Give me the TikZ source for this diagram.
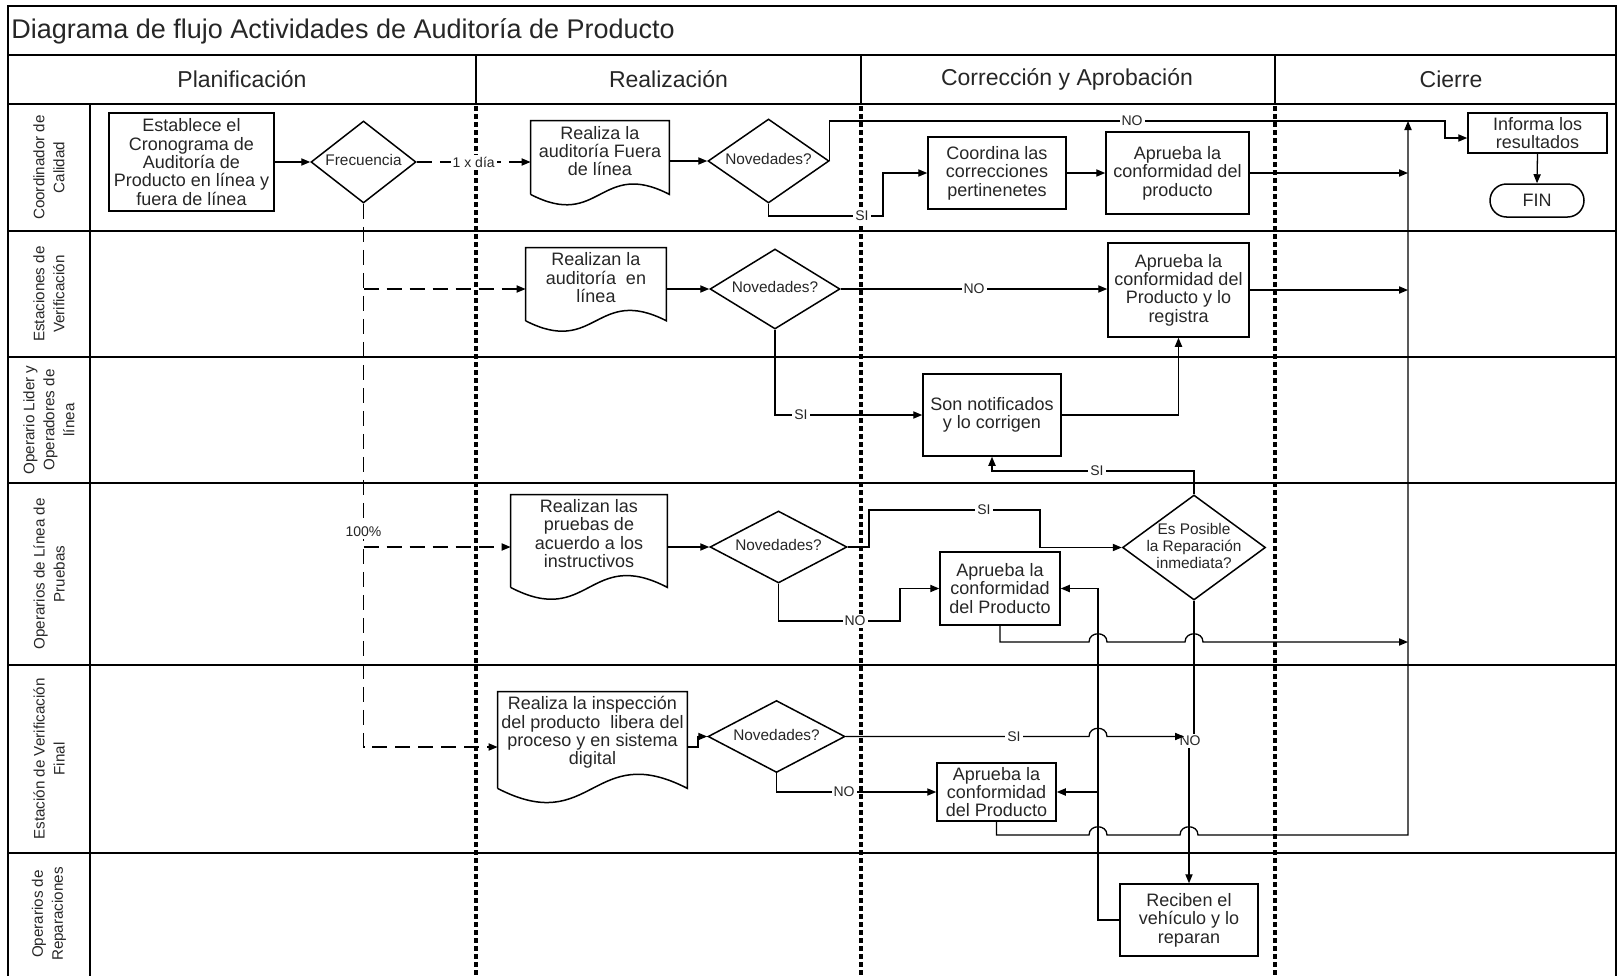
\documentclass[tikz,border=0pt]{standalone}
\usepackage{fontspec}
\setmainfont{Liberation Sans}
\usetikzlibrary{arrows.meta,calc,shapes.geometric}

% font sizes used in the chart
\newcommand\ttlfont{\fontsize{13.5}{15}\selectfont}
\newcommand\hdfont{\fontsize{11.5}{13}\selectfont}
\newcommand\bxfont{\fontsize{9}{9.2}\selectfont}
\newcommand\dcfont{\fontsize{7.7}{8.3}\selectfont}
\newcommand\lnfont{\fontsize{7.6}{10}\selectfont}
\newcommand\lbfont{\fontsize{7}{8}\selectfont}
% centred text of no size, so a decision keeps its given size
\newcommand\zc[1]{\smash{\raisebox{-0.3em}{\makebox[0pt]{\begin{tabular}{@{}c@{}}#1\end{tabular}}}}}
% document symbol: the node holds the text, the sides run #3 further down to a wavy edge
\newcommand\docwave[3]{\draw[shp] ($(#1.south west)+(0,#3)$) -- (#1.north west) -- (#1.north east) -- ($(#1.south east)+(0,#3)$)
  .. controls ($(#1.south)+(0,#3-#2)$) and ($(#1.south)+(0,#3+#2)$) .. ($(#1.south west)+(0,#3)$);}

\begin{document}
\begin{tikzpicture}[x=0.5pt,y=-0.5pt,
  every node/.append style={text=black!85},
  frame/.style={line width=1pt},
  phaseline/.style={line width=1.8pt, dash pattern=on 2.4pt off 1.6pt},
  conn/.style={line width=0.65pt},
  arr/.style={-{Triangle[length=4.5pt,width=3.6pt]}},
  dsh/.style={dash pattern=on 7.5pt off 4pt},
  shp/.style={line width=0.75pt},
  box/.style 2 args={draw, shp, rectangle, align=center, inner sep=0pt,
    minimum width=#1*0.5pt, minimum height=#2*0.5pt, font=\bxfont},
  docbox/.style 2 args={rectangle, align=center, inner sep=0pt,
    minimum width=#1*0.5pt, minimum height=#2*0.5pt, font=\bxfont},
  dec/.style 2 args={diamond, draw, shp, inner sep=0pt,
    minimum width=#1*0.5pt, minimum height=#2*0.5pt, font=\dcfont},
  lbl/.style={fill=white, inner sep=1pt, font=\lbfont},
  lane/.style={rotate=90, align=center, font=\lnfont},
  phase/.style={font=\hdfont},
  jmp/.style 2 args={insert path={-- (#1-9,#2) .. controls (#1-9,#2-11) and (#1+9,#2-11) .. (#1+9,#2)}},
]
\useasboundingbox (0,0) rectangle (1617,975);

% ---------- frame, title, phases and lanes ----------
\draw[frame] (8,976) -- (8,6) -- (1616,6) -- (1616,976);
\draw[frame] (8,55) -- (1616,55);
\draw[frame] (8,104) -- (1616,104);
\foreach \yy in {231,357,483,665,853} \draw[frame] (8,\yy) -- (1616,\yy);
\draw[frame] (90,104) -- (90,976);
\foreach \xx in {476,861,1275} {
  \draw[frame] (\xx,55) -- (\xx,104);
  \draw[phaseline] (\xx,106) -- (\xx,976);
}

\node[font=\ttlfont, anchor=west, inner sep=0pt] (title) at (11,31) {Diagrama de flujo Actividades de Auditoría de Producto};
\node[phase] (ph1) at (242,79.5) {Planificación};
\node[phase] (ph2) at (668.5,79.5) {Realización};
\node[phase] (ph3) at (1067,79.5) {Corrección y Aprobación};
\node[phase] (ph4) at (1451,79.5) {Cierre};

\node[lane] (ln1) at (49,167.5) {Coordinador de\\Calidad};
\node[lane] (ln2) at (49,294) {Estaciones de\\Verificación};
\node[lane] (ln3) at (49,420) {Operario Lider y\\Operadores de\\línea};
\node[lane] (ln4) at (49,574) {Operarios de Línea de\\Pruebas};
\node[lane] (ln5) at (49,759) {Estación de Verificación\\Final};
\node[lane] (ln6) at (49,914) {Operarios de\\Reparaciones};

% ---------- steps ----------
\node[box={165}{98}] (est) at (191.5,162) {Establece el\\Cronograma de\\Auditoría de\\Producto en línea y\\fuera de línea};
\node[dec={105}{82}] (frec) at (363.5,162) {\zc{Frecuencia}};
\node[docbox={138}{60}] (doc1) at (600,151) {Realiza la\\auditoría Fuera\\de línea};
\node[dec={121}{84}] (nov1) at (768.5,161) {\zc{Novedades?}};
\node[box={138}{72}] (coord) at (997,173) {Coordina las\\correcciones\\pertinenetes};
\node[box={143}{82}] (apr1) at (1177.5,173) {Aprueba la\\conformidad del\\producto};
\node[box={139}{40}] (inf) at (1537.5,133) {Informa los\\resultados};
\node[box={94}{33}, rounded corners=8.25pt] (fin) at (1537,200.5) {FIN};

\node[docbox={140}{59.4}] (doc2) at (596,277.7) {Realizan la\\auditoría\ \ en\\línea};
\node[dec={130}{80}] (nov2) at (775,289) {\zc{Novedades?}};
\node[box={141}{94}] (apr2) at (1178.5,290) {Aprueba la\\conformidad del\\Producto y lo\\registra};

\node[box={138}{82}] (son) at (992,415) {Son notificados\\y lo corrigen};

\node[docbox={156}{77.4}] (doc4) at (589,533.7) {Realizan las\\pruebas de\\acuerdo a los\\instructivos};
\node[dec={137}{72}] (nov4) at (778.5,547) {\zc{Novedades?}};
\node[dec={143}{105}] (espos) at (1194,547.5) {\zc{Es Posible\\la Reparación\\inmediata?}};
\node[box={120}{73}] (apr4) at (1000,588.5) {Aprueba la\\conformidad\\del Producto};

\node[docbox={189}{81}] (doc5) at (592.5,732.5) {Realiza la inspección\\del producto\ \ libera del\\proceso y en sistema\\digital};
\node[dec={137}{72}] (nov5) at (776.5,736.5) {\zc{Novedades?}};
\node[box={119}{58}] (apr5) at (996.5,792) {Aprueba la\\conformidad\\del Producto};

\node[box={138}{72}] (rec) at (1189,920) {Reciben el\\vehículo y lo\\reparan};

\docwave{doc1}{36}{13}
\docwave{doc2}{36}{13}
\docwave{doc4}{41}{14.6}
\docwave{doc5}{49}{15}

% ---------- connectors ----------
\draw[conn,arr] (est.east) -- (frec.west);
\draw[conn,dsh,arr] (frec.east) -- (frec.east -| doc1.west) node[lbl,midway] (t1) {1 x día};
\draw[conn,dsh,arr] (frec.south) -- (frec.south |- 0,747) -- (doc5.west |- 0,747);
\draw[conn,dsh,arr] (frec.south |- 0,289) -- (doc2.west |- 0,289);
\draw[conn,dsh,arr] (frec.south |- 0,547) -- (doc4.west |- 0,547);
\node[lbl] (t2) at (frec.south |- 0,532) {100\%};

\draw[conn,arr] (doc1.east |- nov1.west) -- (nov1.west);
\draw[conn,arr] (nov1.east) -- (nov1.east |- 0,121) -- (1445,121) -- (1445,138) -- (inf.west |- 0,138);
\node[lbl] (t3) at (1132,121) {NO};
\draw[conn,arr] (nov1.south) -- (nov1.south |- 0,216) -- (883,216) -- (883,173) -- (coord.west);
\node[lbl] (t4) at (862,216) {SI};
\draw[conn,arr] (coord.east) -- (apr1.west);
\draw[conn,arr] (apr1.east) -- (apr1.east -| 1408,0);

\draw[conn,arr] (doc2.east |- nov2.west) -- (nov2.west);
\draw[conn,arr] (nov2.east) -- (nov2.east -| apr2.west);
\node[lbl] (t5) at (974,289) {NO};
\draw[conn,arr] (apr2.east) -- (apr2.east -| 1408,0);
\draw[conn,arr] (nov2.south) |- (son.west);
\node[lbl] (t6) at (801,415) {SI};
\draw[conn,arr] (son.east) -| (apr2.south);
\draw[conn,arr] (espos.north) -- (espos.north |- 0,471) -| (son.south);
\node[lbl] (t7) at (1097,471) {SI};

\draw[conn,arr] (doc4.east |- nov4.west) -- (nov4.west);
\draw[conn,arr] (nov4.east) -- (869,547) -- (869,510) -- (1040,510) -- (1040,547.5) -- (espos.west);
\node[lbl] (t8) at (984,510) {SI};
\draw[conn,arr] (nov4.south) -- (nov4.south |- 0,621) -- (900,621) -- (900,588.5) -- (apr4.west);
\node[lbl] (t9) at (855,621) {NO};
\draw[conn,arr] (apr4.south) -- (apr4.south |- 0,642) [jmp={1098}{642}] [jmp={1194}{642}] -- (1408,642);

\draw[conn,arr] (espos.south) -- (espos.south |- 0,741) -- (rec.north |- 0,741) -- (rec.north);
\node[lbl] (t12) at (1190,741) {NO};
\draw[conn,arr] (doc5.east |- 0,747) -- (698,747) -- (698,736.5) -- (nov5.west);
\draw[conn,arr] (nov5.east) [jmp={1098}{736.5}] -- (1184,736.5);
\node[lbl] (t10) at (1014,736.5) {SI};
\draw[conn,arr] (nov5.south) |- (apr5.west);
\node[lbl] (t11) at (844,792) {NO};
\draw[conn,arr] (apr5.south) -- (apr5.south |- 0,835) [jmp={1098}{835}] [jmp={1189}{835}] -- (1408,835) -- (1408,121);

\draw[conn,arr] (rec.west) -- (rec.west -| 1098,0) -- (1098,588.5) -- (apr4.east);
\draw[conn,arr] (1098,792) -- (apr5.east);
\draw[conn,arr] (inf.south) -- (fin.north);
\end{tikzpicture}
\end{document}
